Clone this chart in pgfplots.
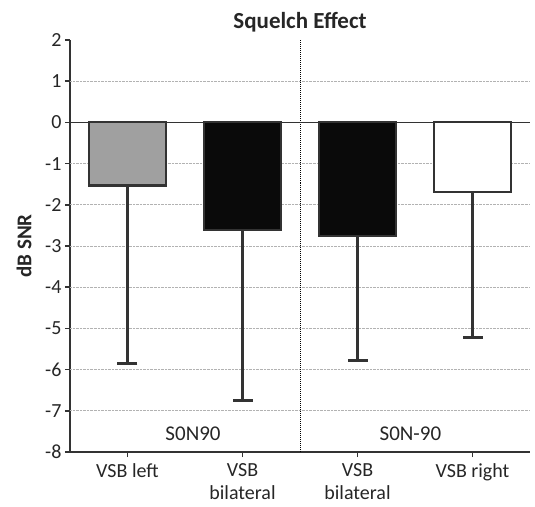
\documentclass[border=0pt]{standalone}
\usepackage{pgfplots}
\pgfplotsset{compat=1.18}
\usepackage{fontspec}
\setmainfont{Carlito}
\definecolor{edge}{HTML}{333333}
\definecolor{txt}{HTML}{262626}
\begin{document}
\begin{tikzpicture}
\begin{axis}[
  scale only axis,
  width=460bp, height=412bp,
  xmin=-0.5, xmax=3.5, ymin=-8, ymax=2,
  axis x line*=bottom, axis y line*=left,
  axis line style={edge, line width=1.5bp},
  ytick={-8,-7,...,2},
  xtick={0,1,2,3},
  xticklabels={VSB left, VSB\\bilateral, VSB\\bilateral, VSB right},
  xticklabel style={align=center, font=\fontsize{20bp}{23bp}\selectfont, text=txt, yshift=-3bp},
  yticklabel style={font=\fontsize{20bp}{23bp}\selectfont, text=txt},
  /pgf/number format/assume math mode=true,
  tick align=outside,
  major tick length=5bp,
  tick style={edge, line width=1.5bp},
  extra y ticks={-7,-6,-5,-4,-3,-2,-1,1},
  extra y tick labels={},
  extra y tick style={grid=major, major tick length=0pt, major grid style={densely dotted, gray!60, line width=0.8bp}},
  title={Squelch Effect},
  title style={font=\bfseries\fontsize{23bp}{27bp}\selectfont, text=txt, yshift=-2bp},
  ylabel={dB SNR},
  ylabel style={font=\bfseries\fontsize{21bp}{25bp}\selectfont, text=txt, at={(axis description cs:0,0.5)}, anchor=center, yshift=46bp},
  ybar, bar width=77bp,
  clip=false,
]
\path (axis cs:-0.5,-8) ++(-70bp,-55bp) (axis cs:3.5,2) ++(5bp,40bp);
\draw[densely dotted, black, line width=1bp] (axis cs:1.5,-8) -- (axis cs:1.5,2);
\addplot[bar shift=0pt, fill={rgb,255:red,160;green,160;blue,160}, draw=edge, line width=2.2bp,
  error bars/.cd, y dir=minus, y explicit, error bar style={edge, line width=3bp}, error mark options={edge, line width=3bp, mark size=10bp, rotate=90}]
  coordinates {(0,-1.53) -= (0,4.32)};
\addplot[bar shift=0pt, fill={rgb,255:red,10;green,10;blue,10}, draw=edge, line width=2.2bp,
  error bars/.cd, y dir=minus, y explicit, error bar style={edge, line width=3bp}, error mark options={edge, line width=3bp, mark size=10bp, rotate=90}]
  coordinates {(1,-2.62) -= (0,4.13)};
\addplot[bar shift=0pt, fill={rgb,255:red,10;green,10;blue,10}, draw=edge, line width=2.2bp,
  error bars/.cd, y dir=minus, y explicit, error bar style={edge, line width=3bp}, error mark options={edge, line width=3bp, mark size=10bp, rotate=90}]
  coordinates {(2,-2.76) -= (0,3.02)};
\addplot[bar shift=0pt, fill=white, draw=edge, line width=2.2bp,
  error bars/.cd, y dir=minus, y explicit, error bar style={edge, line width=3bp}, error mark options={edge, line width=3bp, mark size=10bp, rotate=90}]
  coordinates {(3,-1.68) -= (0,3.54)};
\draw[edge, line width=1.2bp] (axis cs:-0.5,0) -- (axis cs:3.5,0);
\node[font=\fontsize{21bp}{24bp}\selectfont, text=txt] at (axis cs:0.57,-7.55) {S0N90};
\node[font=\fontsize{21bp}{24bp}\selectfont, text=txt] at (axis cs:2.46,-7.55) {S0N-90};
\end{axis}
\end{tikzpicture}
\end{document}
